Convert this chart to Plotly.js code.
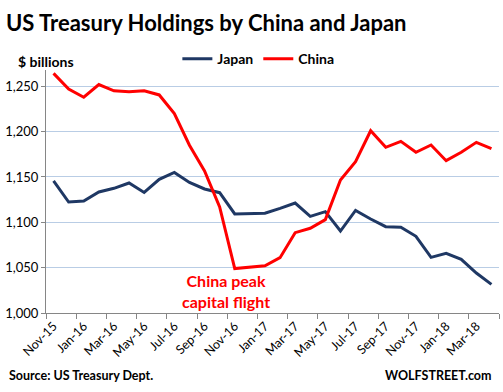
<!DOCTYPE html>
<html>
<head>
<meta charset="utf-8">
<script src="https://cdn.plot.ly/plotly-3.0.1.min.js"></script>
<style>html,body{margin:0;padding:0;background:#fff;}#chart{width:503px;height:392px;}</style>
</head>
<body>
<div id="chart"></div>
<script>
const months = ["Nov-15","Dec-15","Jan-16","Feb-16","Mar-16","Apr-16","May-16","Jun-16","Jul-16","Aug-16","Sep-16","Oct-16","Nov-16","Dec-16","Jan-17","Feb-17","Mar-17","Apr-17","May-17","Jun-17","Jul-17","Aug-17","Sep-17","Oct-17","Nov-17","Dec-17","Jan-18","Feb-18","Mar-18","Apr-18"];
const japan = [1145.6,1122.4,1123.5,1133.5,1137.5,1143.4,1133,1147.5,1155,1144,1136.8,1132.7,1109.2,1109.6,1110,1115.4,1121.3,1106.6,1111.8,1090.4,1113.2,1103.7,1095.2,1094.5,1084.6,1061.4,1065.8,1059.2,1044.1,1031.6];
const china = [1264.3,1247,1238,1252,1245,1244,1245,1240.5,1220,1185,1156.6,1117,1049,1050.7,1052,1061,1088.6,1093.4,1103,1146.7,1167,1201,1182.7,1189.3,1177.2,1185.3,1168,1177.2,1188.2,1181.3];
const yTicks = [1000,1050,1100,1150,1200,1250];
const yTickText = ["1,000","1,050","1,100","1,150","1,200","1,250"];

const idx = months.map((m,i)=>i);
const xTickVals = idx.filter(i=>i%2===0);
const xTickText = xTickVals.map(i=>months[i]);

const FONT = "Lato, 'Open Sans', sans-serif";
const traces = [
  {x: idx, y: japan, name: "Japan", type: "scatter", mode: "lines", line: {color: "#1F3864", width: 3}},
  {x: idx, y: china, name: "China", type: "scatter", mode: "lines", line: {color: "#FF0000", width: 3}}
];
const layout = {
  width: 503, height: 392,
  margin: {l: 45.7, r: 4, t: 70, b: 79},
  paper_bgcolor: "#fff", plot_bgcolor: "#fff",
  font: {family: FONT, color: "#000"},
  title: {text: "<b>US Treasury Holdings by China and Japan</b>", x: 6/503, xanchor: "left", xref: "container", y: 1-23/392, yanchor: "middle", yref: "container", font: {size: 22, family: FONT, color: "#000"}},
  showlegend: true,
  legend: {orientation: "h", x: 0.29, xanchor: "left", y: 1.045, yanchor: "middle", font: {size: 14, family: FONT, color: "#000", weight: "bold"}, bgcolor: "rgba(0,0,0,0)", itemwidth: 30, tracegroupgap: 0},
  xaxis: {
    range: [-0.5, 29.5], tickvals: xTickVals, ticktext: xTickText, tickangle: -45,
    ticks: "", showgrid: false, zeroline: false, showline: true, linecolor: "#868686", linewidth: 1,
    tickfont: {size: 12.5, family: FONT, color: "#000"},
    minor: {tick0: -0.5, dtick: 2, ticks: "outside", ticklen: 5, tickcolor: "#868686", showgrid: false}
  },
  yaxis: {
    range: [1000, 1268], tickvals: yTicks, ticktext: yTickText,
    ticks: "outside", ticklen: 4, tickcolor: "#868686",
    showgrid: true, gridcolor: "#B9CDE5", gridwidth: 1, zeroline: false,
    showline: true, linecolor: "#868686", linewidth: 1,
    tickfont: {size: 13, family: FONT, color: "#000"}
  },
  annotations: [
    {text: "<b>$ billions</b>", xref: "paper", yref: "paper", x: -0.067, y: 1 + (70-61)/243, xanchor: "left", yanchor: "middle", showarrow: false, font: {size: 14, family: FONT, color: "#000"}},
    {text: "<b>China peak<br>capital flight</b>", xref: "x", yref: "y", x: 11.43, y: 1024, xanchor: "center", yanchor: "middle", showarrow: false, font: {size: 16, family: FONT, color: "#FF0000"}},
    {text: "<b>Source: US Treasury Dept.</b>", xref: "paper", yref: "paper", x: -(45.7-7)/453.3, y: -(375-313)/243, xanchor: "left", yanchor: "middle", showarrow: false, font: {size: 12.5, family: FONT, color: "#000"}},
    {text: "<b>WOLFSTREET.com</b>", xref: "paper", yref: "paper", x: (494-45.7)/453.3, y: -(375-313)/243, xanchor: "right", yanchor: "middle", showarrow: false, font: {size: 12.5, family: FONT, color: "#000"}}
  ]
};
Plotly.newPlot("chart", traces, layout, {displayModeBar: false, staticPlot: true});
</script>
</body>
</html>
